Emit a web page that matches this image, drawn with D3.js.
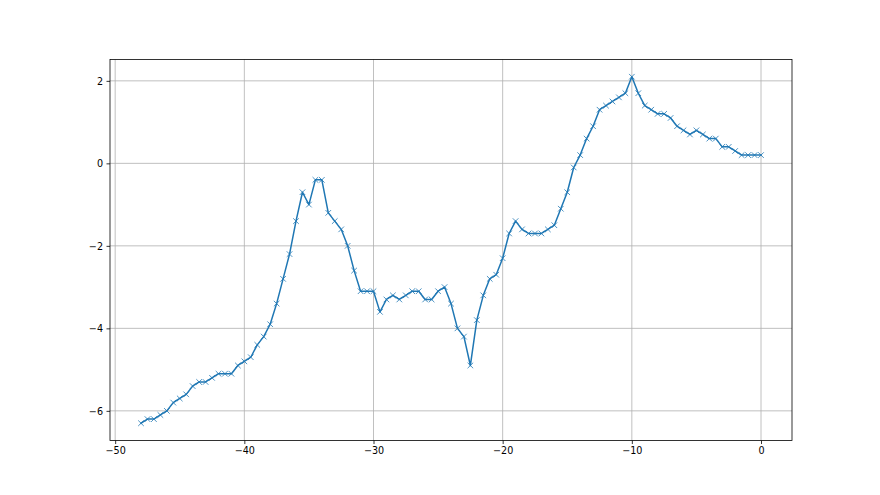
<!DOCTYPE html>
<html>
<head>
<meta charset="utf-8">
<script src="https://cdn.jsdelivr.net/npm/d3@7"></script>
<style>
  html, body { margin: 0; padding: 0; background: #fff; }
  svg { display: block; }
  text { font-family: "DejaVu Sans", sans-serif; font-size: 9.6px; fill: #000; }
</style>
</head>
<body>
<script>
const xValues = [-48, -47.5, -47, -46.5, -46, -45.5, -45, -44.5, -44, -43.5, -43, -42.5, -42, -41.5, -41, -40.5, -40, -39.5, -39, -38.5, -38, -37.5, -37, -36.5, -36, -35.5, -35, -34.5, -34, -33.5, -33, -32.5, -32, -31.5, -31, -30.5, -30, -29.5, -29, -28.5, -28, -27.5, -27, -26.5, -26, -25.5, -25, -24.5, -24, -23.5, -23, -22.5, -22, -21.5, -21, -20.5, -20, -19.5, -19, -18.5, -18, -17.5, -17, -16.5, -16, -15.5, -15, -14.5, -14, -13.5, -13, -12.5, -12, -11.5, -11, -10.5, -10, -9.5, -9, -8.5, -8, -7.5, -7, -6.5, -6, -5.5, -5, -4.5, -4, -3.5, -3, -2.5, -2, -1.5, -1, -0.5, 0];
const yValues = [-6.3, -6.2, -6.2, -6.1, -6.0, -5.8, -5.7, -5.6, -5.4, -5.3, -5.3, -5.2, -5.1, -5.1, -5.1, -4.9, -4.8, -4.7, -4.4, -4.2, -3.9, -3.4, -2.8, -2.2, -1.4, -0.7, -1.0, -0.4, -0.4, -1.2, -1.4, -1.6, -2.0, -2.6, -3.1, -3.1, -3.1, -3.6, -3.3, -3.2, -3.3, -3.2, -3.1, -3.1, -3.3, -3.3, -3.1, -3.0, -3.4, -4.0, -4.2, -4.9, -3.8, -3.2, -2.8, -2.7, -2.3, -1.7, -1.4, -1.6, -1.7, -1.7, -1.7, -1.6, -1.5, -1.1, -0.7, -0.1, 0.2, 0.6, 0.9, 1.3, 1.4, 1.5, 1.6, 1.7, 2.1, 1.7, 1.4, 1.3, 1.2, 1.2, 1.1, 0.9, 0.8, 0.7, 0.8, 0.7, 0.6, 0.6, 0.4, 0.4, 0.3, 0.2, 0.2, 0.2, 0.2];
const xTicks = [-50, -40, -30, -20, -10, 0];
const yTicks = [-6, -4, -2, 0, 2];

const W = 880, H = 495;
const mLeft = 110, mRight = 792, mTop = 59.4, mBottom = 440.55;
const color = "#1f77b4";

const data = xValues.map((x, i) => ({x, y: yValues[i]}));

const xMin = d3.min(xValues), xMax = d3.max(xValues);
const yMin = d3.min(yValues), yMax = d3.max(yValues);
const xPad = (xMax - xMin) * 0.05, yPad = (yMax - yMin) * 0.05;

const x = d3.scaleLinear().domain([xMin - xPad, xMax + xPad]).range([mLeft, mRight]);
const y = d3.scaleLinear().domain([yMin - yPad, yMax + yPad]).range([mBottom, mTop]);

const svg = d3.select("body").append("svg").attr("width", W).attr("height", H);

const fmt = d => (d < 0 ? "\u2212" + Math.abs(d) : String(d));

// grid
const grid = svg.append("g");
grid.selectAll(".gx").data(xTicks).join("line")
  .attr("x1", d => x(d)).attr("x2", d => x(d)).attr("y1", mTop).attr("y2", mBottom)
  .attr("stroke", "#b0b0b0").attr("stroke-width", 0.8);
grid.selectAll(".gy").data(yTicks).join("line")
  .attr("y1", d => y(d)).attr("y2", d => y(d)).attr("x1", mLeft).attr("x2", mRight)
  .attr("stroke", "#b0b0b0").attr("stroke-width", 0.8);

// axes
const xAxis = d3.axisBottom(x).tickValues(xTicks).tickSize(3.5).tickPadding(3.5).tickFormat(fmt);
const yAxis = d3.axisLeft(y).tickValues(yTicks).tickSize(3.5).tickPadding(3.5).tickFormat(fmt);

const gx = svg.append("g").attr("transform", `translate(0,${mBottom})`).call(xAxis);
const gy = svg.append("g").attr("transform", `translate(${mLeft},0)`).call(yAxis);
[gx, gy].forEach(g => {
  g.select(".domain").remove();
  g.selectAll(".tick line").attr("stroke", "#000").attr("stroke-width", 0.8);
  g.selectAll(".tick text").attr("font-family", "DejaVu Sans").attr("font-size", 9.6).attr("fill", "#000");
});
gy.selectAll(".tick text").attr("dy", "0.35em");

// line
svg.append("path").datum(data)
  .attr("fill", "none").attr("stroke", color).attr("stroke-width", 1.5)
  .attr("stroke-linejoin", "round").attr("stroke-linecap", "square")
  .attr("d", d3.line().x(d => x(d.x)).y(d => y(d.y)));

// markers
const s = 2.8;
svg.append("g").selectAll("path").data(data).join("path")
  .attr("transform", d => `translate(${x(d.x)},${y(d.y)})`)
  .attr("d", `M${-s},${-s}L${s},${s}M${-s},${s}L${s},${-s}`)
  .attr("stroke", color).attr("stroke-width", 0.8).attr("fill", "none");

// spines
svg.append("rect").attr("x", mLeft).attr("y", mTop).attr("width", mRight - mLeft).attr("height", mBottom - mTop)
  .attr("fill", "none").attr("stroke", "#000").attr("stroke-width", 0.8);
</script>
</body>
</html>
